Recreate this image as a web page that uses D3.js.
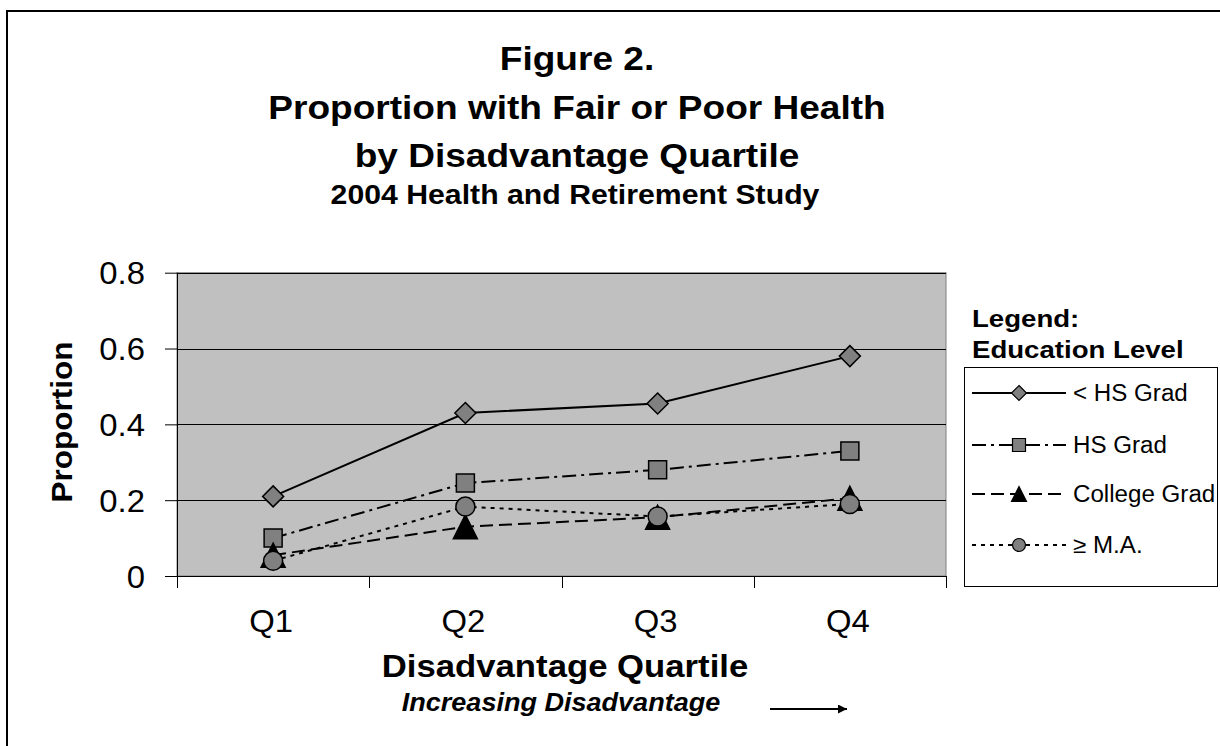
<!DOCTYPE html>
<html>
<head>
<meta charset="utf-8">
<script src="https://cdn.jsdelivr.net/npm/d3@7"></script>
<style>
  html, body { margin: 0; padding: 0; background: #fff; }
  svg { display: block; }
  text { font-family: "Liberation Sans", Arial, sans-serif; fill: #000; }
</style>
</head>
<body>
<svg id="chart" width="1220" height="746"></svg>
<script>
// Quartiles on the x axis
const categories = ["Q1", "Q2", "Q3", "Q4"];

// Proportion reporting fair or poor health, by education level
const lessThanHS = [0.21, 0.43, 0.455, 0.58];
const hsGrad     = [0.10, 0.245, 0.28, 0.33];
const collegeGrad = [0.055, 0.13, 0.155, 0.205];
const masters    = [0.04, 0.183, 0.157, 0.19];

const seriesNames = ["< HS Grad", "HS Grad", "College Grad", "\u2265 M.A."];
const yTickValues = [0, 0.2, 0.4, 0.6, 0.8];
const yTickLabels = ["0", "0.2", "0.4", "0.6", "0.8"];

const titleLines = ["Figure 2.", "Proportion with Fair or Poor Health", "by Disadvantage Quartile"];
const subtitle = "2004 Health and Retirement Study";

const svg = d3.select("#chart");

// helper: text widened horizontally around its anchor point
function wideText(parent, x, y, str, opts) {
  const o = Object.assign({ size: 28, weight: "normal", style: "normal", anchor: "start", sx: 1.1 }, opts || {});
  return parent.append("text")
    .attr("transform", `translate(${x},${y}) scale(${o.sx},1)`)
    .attr("text-anchor", o.anchor)
    .style("font-size", o.size + "px")
    .style("font-weight", o.weight)
    .style("font-style", o.style)
    .text(str);
}

// outer frame
svg.append("rect")
  .attr("x", 7).attr("y", 11).attr("width", 1230).attr("height", 760)
  .attr("fill", "none").attr("stroke", "#000").attr("stroke-width", 2);

// plot geometry
const plot = { left: 177, right: 946, top: 272.7, bottom: 576 };
const x = d3.scaleBand().domain(categories).range([plot.left, plot.right]);
const y = d3.scaleLinear().domain([0, 0.8]).range([plot.bottom, plot.top]);
const cx = c => x(c) + x.bandwidth() / 2;

// titles
const titleCx = 577;
const titleBaselines = [70, 119, 167];
titleLines.forEach((t, i) => wideText(svg, titleCx, titleBaselines[i], t, { size: 34, weight: "bold", anchor: "middle", sx: 1.09 }));
wideText(svg, 575, 204, subtitle, { size: 27, weight: "bold", anchor: "middle", sx: 1.12 });

// plot background
svg.append("rect")
  .attr("x", plot.left).attr("y", plot.top)
  .attr("width", plot.right - plot.left).attr("height", plot.bottom - plot.top)
  .attr("fill", "#c0c0c0").attr("stroke", "#808080").attr("stroke-width", 1);

// horizontal grid lines
svg.append("g").selectAll("line")
  .data(yTickValues.filter(v => v > 0))
  .join("line")
  .attr("x1", plot.left).attr("x2", plot.right)
  .attr("y1", d => Math.round(y(d)) + 0.5).attr("y2", d => Math.round(y(d)) + 0.5)
  .attr("stroke", "#000").attr("stroke-width", 1);

// y axis
const tickSX = 1.06;
const yAxis = svg.append("g")
  .attr("transform", `translate(${plot.left},0)`)
  .call(d3.axisLeft(y).tickValues(yTickValues).tickSize(12).tickPadding(0)
    .tickFormat((d, i) => yTickLabels[i]));
yAxis.select(".domain").remove();
yAxis.selectAll(".tick line").attr("stroke", "#000");
yAxis.selectAll(".tick text")
  .attr("x", null).attr("dy", null)
  .attr("transform", `translate(-32,11) scale(${tickSX},1)`)
  .style("font-size", "31px").style("font-family", "Liberation Sans, Arial, sans-serif");
svg.append("line")
  .attr("x1", plot.left + 0.5).attr("x2", plot.left + 0.5)
  .attr("y1", plot.top).attr("y2", plot.bottom + 12)
  .attr("stroke", "#000").attr("stroke-width", 1);

// x axis: labels centred in bands, ticks on band boundaries
const xAxis = svg.append("g")
  .attr("transform", `translate(0,${plot.bottom})`)
  .call(d3.axisBottom(x).tickSize(0).tickPadding(0));
xAxis.select(".domain").remove();
xAxis.selectAll(".tick text")
  .attr("y", null).attr("dy", null)
  .attr("transform", `translate(-2,56) scale(${tickSX},1)`)
  .style("font-size", "31px").style("font-family", "Liberation Sans, Arial, sans-serif");
svg.append("line")
  .attr("x1", plot.left).attr("x2", plot.right)
  .attr("y1", plot.bottom + 0.5).attr("y2", plot.bottom + 0.5)
  .attr("stroke", "#000").attr("stroke-width", 1.2);
const boundaries = categories.map(c => x(c)).concat([x(categories[categories.length - 1]) + x.bandwidth()]);
svg.append("g").selectAll("line")
  .data(boundaries.slice(1))
  .join("line")
  .attr("x1", d => Math.round(d) + 0.5).attr("x2", d => Math.round(d) + 0.5)
  .attr("y1", plot.bottom).attr("y2", plot.bottom + 12)
  .attr("stroke", "#000").attr("stroke-width", 1);

// axis titles
svg.append("text")
  .attr("transform", `translate(72,422) rotate(-90) scale(1.05,1)`)
  .attr("text-anchor", "middle")
  .style("font-size", "30px").style("font-weight", "bold")
  .text("Proportion");
wideText(svg, 565, 677, "Disadvantage Quartile", { size: 31, weight: "bold", anchor: "middle", sx: 1.12 });
wideText(svg, 561, 711, "Increasing Disadvantage", { size: 26, weight: "bold", style: "italic", anchor: "middle", sx: 1.04 });

// direction arrow
svg.append("defs").append("marker")
  .attr("id", "arrowHead").attr("viewBox", "0 0 10 10")
  .attr("refX", 10).attr("refY", 5)
  .attr("markerWidth", 6).attr("markerHeight", 4.5).attr("orient", "auto")
  .attr("markerUnits", "strokeWidth")
  .append("path").attr("d", "M0,0 L10,5 L0,10 Z").attr("fill", "#000");
svg.append("line")
  .attr("x1", 770).attr("x2", 847).attr("y1", 709).attr("y2", 709)
  .attr("stroke", "#000").attr("stroke-width", 2)
  .attr("marker-end", "url(#arrowHead)");

// series definitions
const series = [
  { name: seriesNames[0], values: lessThanHS, dash: null, shape: "diamond" },
  { name: seriesNames[1], values: hsGrad, dash: "14,5,3,5", shape: "square" },
  { name: seriesNames[2], values: collegeGrad, dash: "13,6", shape: "triangle" },
  { name: seriesNames[3], values: masters, dash: "4,5", shape: "circle" }
];

function markerPath(shape, s) {
  // s = overall marker size in px
  const h = s / 2;
  if (shape === "diamond") return `M0,${-h}L${h},0L0,${h}L${-h},0Z`;
  if (shape === "square") return `M${-h},${-h}H${h}V${h}H${-h}Z`;
  if (shape === "triangle") return `M0,${-h}L${h},${h}L${-h},${h}Z`;
  return d3.symbol(d3.symbolCircle, Math.PI * h * h)();
}
const markerFill = { diamond: "#808080", square: "#808080", triangle: "#000", circle: "#808080" };
const markerSize = { diamond: 21, square: 18, triangle: 24, circle: 19 };

const line = d3.line().x((d, i) => cx(categories[i])).y(d => y(d));

const seriesG = svg.append("g");
series.forEach(s => {
  const g = seriesG.append("g");
  g.append("path")
    .attr("d", line(s.values))
    .attr("fill", "none").attr("stroke", "#000").attr("stroke-width", 2)
    .attr("stroke-dasharray", s.dash);
  g.selectAll("path.mk")
    .data(s.values)
    .join("path").attr("class", "mk")
    .attr("transform", (d, i) => `translate(${cx(categories[i])},${y(d)})`)
    .attr("d", markerPath(s.shape, markerSize[s.shape]))
    .attr("fill", markerFill[s.shape]).attr("stroke", "#000").attr("stroke-width", 1.5);
});

// legend
wideText(svg, 972, 327, "Legend:", { size: 24, weight: "bold", sx: 1.15 });
wideText(svg, 972, 358, "Education Level", { size: 24, weight: "bold", sx: 1.15 });
const legend = { x: 964, y: 367, w: 253, h: 219 };
svg.append("rect")
  .attr("x", legend.x + 0.5).attr("y", legend.y + 0.5).attr("width", legend.w).attr("height", legend.h)
  .attr("fill", "#fff").attr("stroke", "#000").attr("stroke-width", 1);
const legendRows = [393, 445, 494, 545];
const legendMarkerSize = { diamond: 15, square: 13, triangle: 15, circle: 13 };
series.forEach((s, i) => {
  const ly = legendRows[i];
  svg.append("line")
    .attr("x1", 972).attr("x2", 1066).attr("y1", ly).attr("y2", ly)
    .attr("stroke", "#000").attr("stroke-width", 2)
    .attr("stroke-dasharray", s.dash);
  svg.append("path")
    .attr("transform", `translate(1019,${ly})`)
    .attr("d", markerPath(s.shape, legendMarkerSize[s.shape]))
    .attr("fill", markerFill[s.shape]).attr("stroke", "#000").attr("stroke-width", 1.2);
  wideText(svg, 1073, ly + 8, s.name, { size: 23, sx: 1.05 });
});
</script>
</body>
</html>
